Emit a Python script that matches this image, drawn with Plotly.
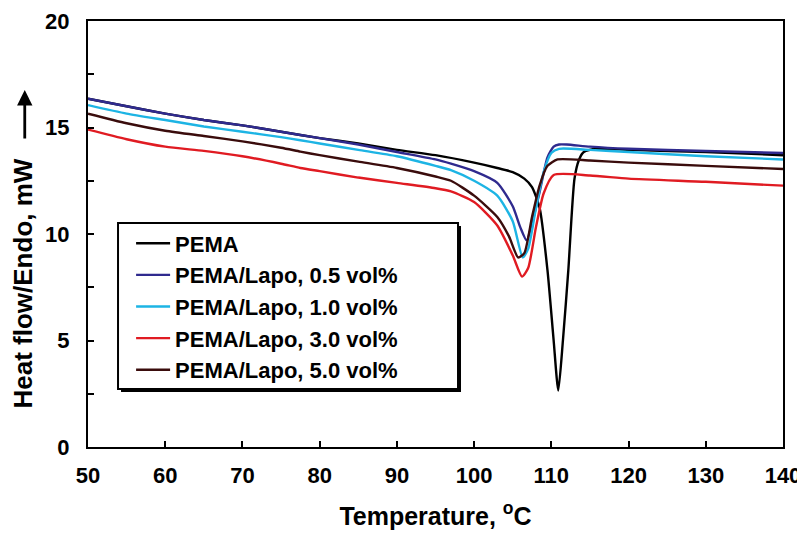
import plotly.graph_objects as go

# ---- data ----
pema_x = [50, 55, 60, 65, 70, 75, 80, 85, 90, 95, 100, 103, 105, 106.5, 107.5, 108.5, 109.5, 110.3, 110.9, 111.5, 112.2, 113.0, 113.6, 114.2, 116, 120, 130, 140]
pema_y = [16.35, 16.0, 15.65, 15.35, 15.1, 14.8, 14.5, 14.25, 13.95, 13.7, 13.35, 13.1, 12.9, 12.6, 12.2, 11.2, 8.3, 5.0, 2.65, 5.0, 8.3, 12.6, 13.5, 13.85, 14.0, 13.95, 13.85, 13.7]

l05_x = [50, 55, 60, 65, 70, 75, 80, 85, 90, 95, 97, 100, 103, 105, 106, 106.8, 107.5, 108.5, 109.5, 110.3, 111, 112, 115, 120, 130, 140]
l05_y = [16.35, 16.0, 15.65, 15.35, 15.1, 14.8, 14.5, 14.2, 13.85, 13.5, 13.3, 12.95, 12.4, 11.3, 10.3, 9.7, 10.5, 12.0, 13.6, 14.1, 14.2, 14.2, 14.1, 14.0, 13.9, 13.8]

l10_x = [50, 55, 60, 65, 70, 75, 77.5, 80, 85, 90, 95, 97, 100, 103, 105, 106.3, 107, 108, 109, 110, 111, 115, 120, 130, 140]
l10_y = [16.05, 15.65, 15.35, 15.05, 14.8, 14.55, 14.4, 14.25, 13.95, 13.65, 13.2, 13.0, 12.5, 11.8, 10.6, 8.9, 9.3, 11.2, 12.9, 13.8, 14.0, 13.95, 13.85, 13.65, 13.5]

l30_x = [50, 55, 60, 65, 70, 75, 77.5, 80, 85, 90, 95, 97, 100, 103, 105, 106.2, 107, 108, 109, 110.3, 115, 120, 130, 140]
l30_y = [14.9, 14.45, 14.1, 13.9, 13.65, 13.3, 13.1, 12.95, 12.65, 12.4, 12.15, 12.0, 11.5, 10.4, 9.0, 8.0, 8.4, 10.3, 11.9, 12.77, 12.75, 12.6, 12.45, 12.27]

l50_x = [50, 55, 60, 65, 70, 75, 77.5, 80, 85, 90, 95, 97, 100, 103, 104.5, 105.7, 106.5, 107.5, 108.5, 109.5, 110.8, 115, 120, 130, 140]
l50_y = [15.65, 15.2, 14.85, 14.6, 14.35, 14.05, 13.87, 13.7, 13.4, 13.1, 12.7, 12.5, 11.8, 10.8, 9.9, 8.9, 9.1, 10.8, 12.3, 13.2, 13.5, 13.45, 13.35, 13.2, 13.05]

names = ["PEMA", "PEMA/Lapo, 0.5 vol%", "PEMA/Lapo, 1.0 vol%", "PEMA/Lapo, 3.0 vol%", "PEMA/Lapo, 5.0 vol%"]
colors = ["#000000", "#2f2a8e", "#1db4e4", "#e01b22", "#3a0c0c"]

x_ticks = [50, 60, 70, 80, 90, 100, 110, 120, 130, 140]
y_ticks = [0, 2.5, 5, 7.5, 10, 12.5, 15, 17.5, 20]
y_ticktext = ["0", "", "5", "", "10", "", "15", "", "20"]

FONT = "Arial, 'Liberation Sans', sans-serif"

fig = go.Figure()
series = [(pema_x, pema_y), (l05_x, l05_y), (l10_x, l10_y), (l30_x, l30_y), (l50_x, l50_y)]
for i in range(5):
    xs, ys = series[i]
    fig.add_trace(go.Scatter(x=xs, y=ys, mode="lines", name=names[i],
                             line=dict(color=colors[i], width=2.4, shape="spline", smoothing=0.6),
                             legendgroup=str(i), legendrank=i + 1))

fig.update_layout(
    width=797, height=526,
    margin=dict(l=80, r=22, t=13, b=87, autoexpand=False),
    paper_bgcolor="white", plot_bgcolor="white",
    font=dict(family=FONT, color="black", size=22, weight="bold"),
    showlegend=True,
    legend=dict(x=0.062, y=0.527, xanchor="left", yanchor="top",
                borderwidth=0, bgcolor="rgba(0,0,0,0)",
                font=dict(family=FONT, size=22, weight="bold", color="black"),
                itemwidth=34, tracegroupgap=7, traceorder="normal"),
    xaxis=dict(range=[50, 140], tickvals=x_ticks, ticks="inside", ticklen=6,
               tickwidth=1.5, tickcolor="black", showline=True, linecolor="black",
               linewidth=2, mirror=True, showgrid=False, zeroline=False,
               tickfont=dict(size=22, weight="bold"), ticklabelstandoff=8,
               title=dict(text="Temperature, <sup>o</sup>C", standoff=20,
                          font=dict(size=25, weight="bold"))),
    yaxis=dict(range=[0, 20], tickvals=y_ticks, ticktext=y_ticktext, ticks="inside",
               ticklen=6, tickwidth=1.5, tickcolor="black", showline=True,
               linecolor="black", linewidth=2, mirror=True, showgrid=False,
               zeroline=False, tickfont=dict(size=22, weight="bold"),
               ticklabelstandoff=12),
    shapes=[
        # legend drop shadow and frame
        dict(type="rect", xref="paper", yref="paper", x0=0.0475, x1=0.5367,
             y0=0.1291, y1=0.5188, fillcolor="black", line=dict(width=0), layer="above"),
        dict(type="rect", xref="paper", yref="paper", x0=0.0432, x1=0.5324,
             y0=0.1362, y1=0.5258, fillcolor="white",
             line=dict(color="black", width=2), layer="above"),
    ],
    annotations=[
        dict(text="Heat flow/Endo, mW", xref="paper", yref="paper",
             x=-0.094, y=0.383, xanchor="center", yanchor="middle", textangle=-90,
             showarrow=False, font=dict(size=26, weight="bold")),
        dict(x=-0.091, y=0.838, ax=0, ay=50, xref="paper", yref="paper",
             axref="pixel", ayref="pixel", text="", showarrow=True,
             arrowhead=2, arrowsize=1.1, arrowwidth=2.8, arrowcolor="black"),
    ],
)

fig.write_html("out.html")
